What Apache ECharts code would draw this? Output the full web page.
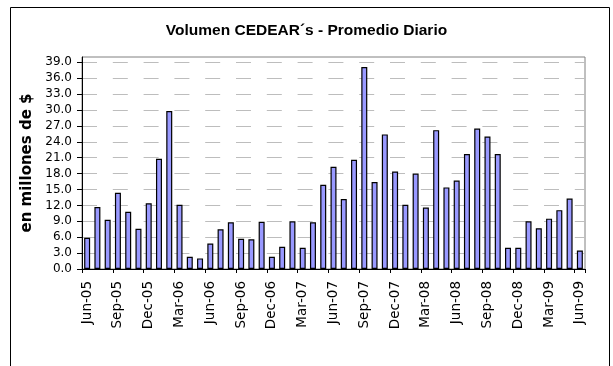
<!DOCTYPE html>
<html>
<head>
<meta charset="utf-8">
<script src="https://cdn.jsdelivr.net/npm/echarts@6/dist/echarts.min.js"></script>
<style>
  html, body { margin: 0; padding: 0; background: #ffffff; }
  #chart { width: 613px; height: 366px; }
</style>
</head>
<body>
<div id="chart"></div>
<script>
// Monthly categories, June 2005 through June 2009
const months = [
  'Jun-05','Jul-05','Aug-05','Sep-05','Oct-05','Nov-05','Dec-05','Jan-06','Feb-06','Mar-06',
  'Apr-06','May-06','Jun-06','Jul-06','Aug-06','Sep-06','Oct-06','Nov-06','Dec-06','Jan-07',
  'Feb-07','Mar-07','Apr-07','May-07','Jun-07','Jul-07','Aug-07','Sep-07','Oct-07','Nov-07',
  'Dec-07','Jan-08','Feb-08','Mar-08','Apr-08','May-08','Jun-08','Jul-08','Aug-08','Sep-08',
  'Oct-08','Nov-08','Dec-08','Jan-09','Feb-09','Mar-09','Apr-09','May-09','Jun-09'
];

// Average daily volume, millions of $
const dailyVolume = [
  5.9, 11.7, 9.3, 14.4, 10.8, 7.6, 12.4, 20.8, 29.8, 12.1,
  2.3, 2.0, 4.8, 7.5, 8.8, 5.7, 5.6, 8.9, 2.3, 4.2,
  9.0, 4.0, 8.8, 15.9, 19.3, 13.2, 20.6, 38.1, 16.4, 25.4,
  18.4, 12.1, 18.0, 11.6, 26.2, 15.4, 16.7, 21.7, 26.5, 25.0,
  21.7, 4.0, 4.0, 9.0, 7.7, 9.5, 11.1, 13.3, 3.5
];

// Value-axis tick marks
const yTicks = [0, 3, 6, 9, 12, 15, 18, 21, 24, 27, 30, 33, 36, 39];

const chart = echarts.init(document.getElementById('chart'), null, { renderer: 'canvas' });

chart.setOption({
  animation: false,
  backgroundColor: '#ffffff',
  title: {
    text: 'Volumen CEDEAR´s - Promedio Diario',
    left: 'center',
    top: 18,
    textStyle: {
      fontFamily: 'Liberation Sans, Arial, sans-serif',
      fontWeight: 'bold',
      fontSize: 15.5,
      color: '#000000'
    }
  },
  graphic: [{
    type: 'rect',
    left: 8,
    top: 5,
    shape: { width: 599, height: 380 },
    style: { fill: 'none', stroke: '#000000', lineWidth: 1 },
    silent: true,
    z: -1
  }],
  grid: {
    left: 82,
    right: 28,
    top: 57,
    bottom: 97,
    show: true,
    borderColor: '#808080',
    borderWidth: 1,
    backgroundColor: 'transparent'
  },
  xAxis: {
    type: 'category',
    data: months,
    boundaryGap: true,
    axisLine: { show: true, lineStyle: { color: '#000000', width: 1 } },
    axisTick: { show: true, interval: 2, length: 4, alignWithLabel: false, lineStyle: { color: '#000000' } },
    axisLabel: {
      interval: 2,
      rotate: 90,
      margin: 12,
      fontFamily: 'DejaVu Sans, sans-serif',
      fontSize: 13.5,
      color: '#000000'
    },
    splitLine: { show: false }
  },
  yAxis: {
    type: 'value',
    min: 0,
    max: 40,
    interval: 3,
    name: 'en millones de $',
    nameLocation: 'middle',
    nameGap: 40,
    nameRotate: 90,
    nameTextStyle: {
      fontFamily: 'DejaVu Sans, sans-serif',
      fontWeight: 'bold',
      fontSize: 15,
      color: '#000000'
    },
    axisLine: { show: true, lineStyle: { color: '#000000', width: 1 } },
    axisTick: { show: true, length: 5, inside: false, customValues: yTicks, lineStyle: { color: '#000000' } },
    axisLabel: {
      margin: 10,
      customValues: yTicks,
      fontFamily: 'DejaVu Sans, sans-serif',
      fontSize: 12,
      color: '#000000',
      formatter: function (v) { return v > 39 ? '' : v.toFixed(1); }
    },
    splitLine: {
      show: true,
      lineStyle: { color: '#bdbdbd', width: 1, type: [15, 15.8] }
    }
  },
  series: [{
    type: 'bar',
    data: dailyVolume,
    barWidth: 6,
    itemStyle: {
      color: '#9999ff',
      borderColor: '#000000',
      borderWidth: 1.2
    }
  }]
});
</script>
</body>
</html>
